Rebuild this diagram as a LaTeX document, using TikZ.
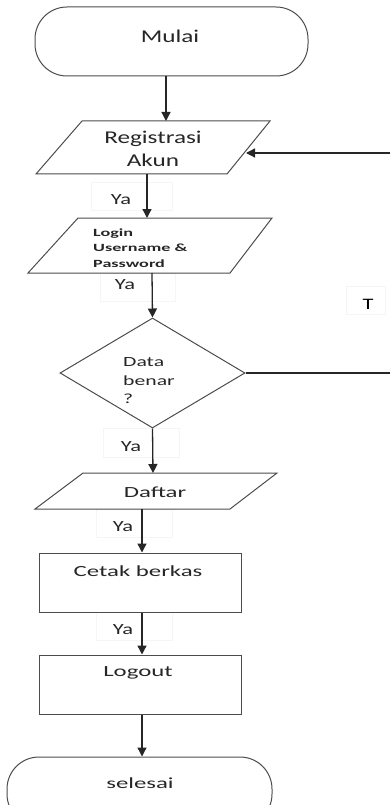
\documentclass[tikz,border=0pt]{standalone}
\usepackage{fontspec}
\setmainfont{Carlito}
\newfontfamily\fA[FakeStretch=1.4]{Carlito}
\newfontfamily\fB[FakeStretch=1.6]{Carlito}
\newfontfamily\fY[FakeStretch=1.45]{Carlito}
\newfontfamily\fD[FakeStretch=1.55]{Carlito}
\newfontfamily\fC[FakeStretch=1.65]{Carlito Bold}
\usetikzlibrary{shapes.geometric,arrows.meta}
\begin{document}
\begin{tikzpicture}[x=1pt,y=-1pt,
  shp/.style={draw=black!70, line width=1pt},
  arr/.style={draw=black!85, line width=1.3pt, -{Triangle[length=9pt,width=9pt]}},
  ybox/.style={draw=black!4, line width=0.6pt},
  txt/.style={text=black!85, inner sep=0pt},
  big/.style={font=\fA\fontsize{18}{23}\selectfont},
  mid/.style={font=\fB\fontsize{15.5}{19}\selectfont},
  yalab/.style={txt, font=\fY\fontsize{15.5}{19}\selectfont}]
\useasboundingbox (0,0) rectangle (390,805);

% faint label boxes
\draw[ybox] (91,182) rectangle (172,210);
\draw[ybox] (100,273) rectangle (175,301);
\draw[ybox] (103,428) rectangle (179,457);
\draw[ybox] (96,509) rectangle (172,537);
\draw[ybox] (96,612) rectangle (172,640);
\draw[ybox] (346,286) rectangle (385,314);

% terminals
\node[shp, rounded corners=32, minimum width=273, minimum height=69, inner sep=0] (mulai) at (171.5,41.5) {};
\node[txt, big] (mulaiT) at (170,36) {Mulai};
\node[shp, rounded corners=32, minimum width=265, minimum height=69, inner sep=0] (selesai) at (139.5,791.5) {};
\node[txt, mid] (selesaiT) at (140,783) {selesai};

% Registrasi parallelogram
\draw[shp] (82,121) -- (270,121) -- (227,174) -- (36,174) -- cycle;
\node[txt, big, align=center] (reg) at (153,149) {Registrasi\\Akun};
\coordinate (regtop) at (166,121);
\coordinate (regbot) at (147,174);
\coordinate (regin) at (246,153);

% Login parallelogram
\draw[shp] (78,218) -- (272,218) -- (230,273) -- (28,273) -- cycle;
\node[txt, anchor=west, align=left, font=\fC\fontsize{11}{15.5}\selectfont] (login) at (93,248) {Login\\Username \&\\Password};
\coordinate (logtop) at (147,218);
\coordinate (logbot) at (152,273);

% decision
\node[shp, diamond, minimum width=185, minimum height=110, inner sep=0] (dec) at (152.5,373) {};
\node[txt, anchor=west, align=left, font=\fD\fontsize{14}{18.5}\selectfont] (decT) at (123,381) {Data\\benar\\?};

% Daftar parallelogram
\draw[shp] (83,473) -- (277,473) -- (230,509) -- (35,509) -- cycle;
\node[txt, mid] (daftar) at (155,492) {Daftar};
\coordinate (daftop) at (153,473);
\coordinate (dafbot) at (142,509);

% process boxes
\node[shp, minimum width=202, minimum height=59, inner sep=0] (cetak) at (140,582.5) {};
\node[txt, mid] (cetakT) at (138,571) {Cetak berkas};
\node[shp, minimum width=202, minimum height=59, inner sep=0] (logout) at (140,684.5) {};
\node[txt, mid] (logoutT) at (138,673) {Logout};

% connectors
\draw[arr] (mulai.south -| regtop) -- (regtop);
\draw[arr] (regbot) -- (logtop);
\draw[arr] (logbot) -- (dec.north);
\draw[arr] (dec.south) -- (daftop);
\draw[arr] (dafbot) -- (cetak.north -| dafbot);
\draw[arr] (cetak.south -| dafbot) -- (logout.north -| dafbot);
\draw[arr] (logout.south -| dafbot) -- (selesai.north -| dafbot);
\draw[arr] (dec.east) -- ++(148,0) |- (regin);

% labels
\node[yalab] (ya1) at (121,200) {Ya};
\node[yalab] (ya2) at (125,285) {Ya};
\node[yalab] (ya3) at (131,447) {Ya};
\node[yalab] (ya4) at (123,527) {Ya};
\node[yalab] (ya5) at (123,630) {Ya};
\node[txt, text=black, font=\fA\fontsize{16}{19}\selectfont] (tlab) at (368,304) {T};
\end{tikzpicture}
\end{document}
